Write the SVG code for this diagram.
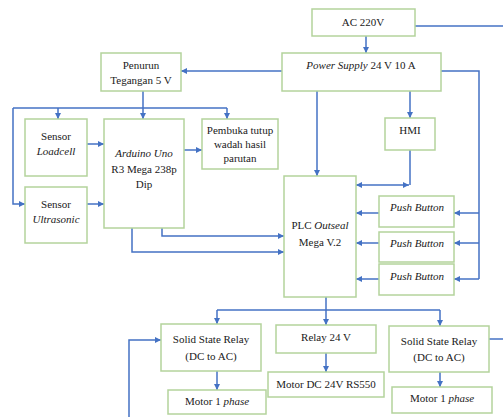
<svg xmlns="http://www.w3.org/2000/svg" width="503" height="417" viewBox="0 0 503 417">
<defs>
<marker id="ah" viewBox="0 0 10 10" refX="10" refY="5" markerWidth="6" markerHeight="6" markerUnits="userSpaceOnUse" orient="auto-start-reverse">
<path d="M0,0 L10,5 L0,10 z" fill="#4472c4"/>
</marker>
<style>
.b{fill:#fff;stroke:#b4d39c;stroke-width:1.5}
text{font-family:'Liberation Serif','Times New Roman','DejaVu Serif',serif;font-size:11px;fill:#1a1a1a;text-anchor:middle}
.c path{fill:none;stroke:#4472c4;stroke-width:1.5}
.a{marker-end:url(#ah)}
.d{marker-start:url(#ah);marker-end:url(#ah)}
</style>
</defs>
<rect width="503" height="417" fill="#fff"/>
<g class="c">
<path d="M415,26 H503"/>
<path class="a" d="M366,36 V53"/>
<path class="a" d="M282,71 H181"/>
<path d="M441,71 H479 V279"/>
<path class="a" d="M479,213 H454"/>
<path class="a" d="M479,243 H454"/>
<path class="a" d="M479,279 H454"/>
<path class="a" d="M317,91 V176"/>
<path class="a" d="M410,91 V118"/>
<path d="M410,150 V185"/>
<path class="d" d="M356,185 H409"/>
<path d="M143,91 V108"/>
<path d="M13,108 H227"/>
<path class="a" d="M58,108 V119"/>
<path class="a" d="M143,108 V119"/>
<path class="a" d="M227,108 V119"/>
<path class="a" d="M13,108 V204 H25"/>
<path class="a" d="M87,144 H104"/>
<path class="a" d="M87,204 H104"/>
<path class="a" d="M184,150 H202"/>
<path class="a" d="M162,228 V236 H284"/>
<path class="a" d="M132,228 V252 H284"/>
<path class="a" d="M379,213 H356"/>
<path class="a" d="M379,243 H356"/>
<path class="a" d="M379,279 H356"/>
<path d="M326,297 V310"/>
<path d="M217,310 H440"/>
<path class="a" d="M217,310 V324"/>
<path class="a" d="M326,310 V325"/>
<path class="a" d="M440,310 V326"/>
<path class="a" d="M326,353 V372"/>
<path class="a" d="M217,371 V390"/>
<path class="a" d="M440,372 V387"/>
<path d="M489,339 H503"/>
<path class="a" d="M129,417 V340 H161"/>
</g>
<g id="ac"><rect class="b" x="312" y="9" width="103" height="27"/><text x="363" y="26">AC 220V</text></g>
<g id="ps"><rect class="b" x="282" y="53" width="159" height="38"/><text x="361" y="69"><tspan font-style="italic">Power Supply</tspan> 24 V 10 A</text></g>
<g id="penurun"><rect class="b" x="101" y="53" width="80" height="38"/><text x="141" y="69">Penurun</text><text x="141" y="84">Tegangan 5 V</text></g>
<g id="loadcell"><rect class="b" x="25" y="119" width="62" height="57"/><text x="56" y="140">Sensor</text><text x="56" y="155" font-style="italic">Loadcell</text></g>
<g id="ultrasonic"><rect class="b" x="25" y="187" width="62" height="56"/><text x="56" y="208">Sensor</text><text x="56" y="223" font-style="italic">Ultrasonic</text></g>
<g id="arduino"><rect class="b" x="104" y="119" width="80" height="109"/><text x="144" y="157" font-style="italic">Arduino Uno</text><text x="144" y="173">R3 Mega 238p</text><text x="144" y="188">Dip</text></g>
<g id="pembuka"><rect class="b" x="202" y="119" width="76" height="50"/><text x="240" y="134">Pembuka tutup</text><text x="240" y="148">wadah hasil</text><text x="240" y="162">parutan</text></g>
<g id="hmi"><rect class="b" x="385" y="118" width="50" height="32"/><text x="410" y="134">HMI</text></g>
<g id="plc"><rect class="b" x="284" y="176" width="72" height="121"/><text x="320" y="229">PLC <tspan font-style="italic">Outseal</tspan></text><text x="320" y="246">Mega V.2</text></g>
<g id="pb1"><rect class="b" x="379" y="196" width="75" height="31"/><text x="417" y="211" font-style="italic">Push Button</text></g>
<g id="pb2"><rect class="b" x="379" y="232" width="75" height="30"/><text x="417" y="247" font-style="italic">Push Button</text></g>
<g id="pb3"><rect class="b" x="379" y="264" width="75" height="31"/><text x="417" y="280" font-style="italic">Push Button</text></g>
<g id="ssr1"><rect class="b" x="161" y="324" width="100" height="47"/><text x="211" y="343">Solid State Relay</text><text x="211" y="360">(DC to AC)</text></g>
<g id="relay"><rect class="b" x="276" y="325" width="100" height="28"/><text x="326" y="341">Relay 24 V</text></g>
<g id="ssr2"><rect class="b" x="389" y="326" width="100" height="46"/><text x="439" y="345">Solid State Relay</text><text x="439" y="361">(DC to AC)</text></g>
<g id="motordc"><rect class="b" x="268" y="372" width="116" height="25"/><text x="326" y="388">Motor DC 24V RS550</text></g>
<g id="motor1a"><rect class="b" x="168" y="390" width="98" height="24"/><text x="217" y="405">Motor 1 <tspan font-style="italic">phase</tspan></text></g>
<g id="motor1b"><rect class="b" x="392" y="387" width="100" height="26"/><text x="442" y="402">Motor 1 <tspan font-style="italic">phase</tspan></text></g>
</svg>
